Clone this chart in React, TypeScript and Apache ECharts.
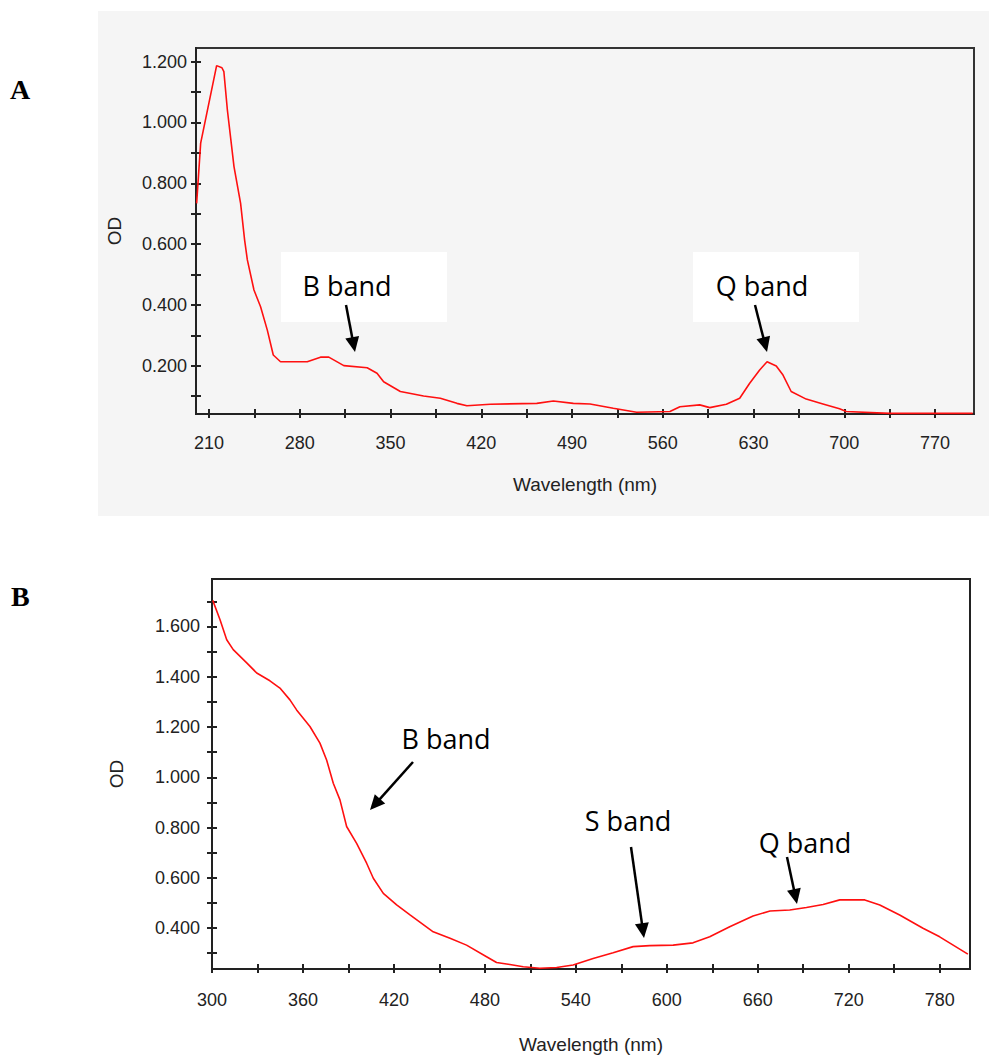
import React, { useEffect, useRef } from "react";
import * as echarts from "echarts";

// Panel A: spectrum (wavelength nm, OD)
const wavelengthA = [200.5, 203.6, 215.9, 220, 221.5, 224.2, 229.3, 234.4, 237.5, 239.6, 244.7, 249.8, 255, 259.6, 265.2, 285.8, 296, 302.4, 314, 332, 339.6, 344.7, 357.6, 375.5, 388.4, 401.2, 408.9, 426.9, 462.8, 475.6, 491, 503.9, 521.8, 539.8, 565.5, 573.2, 588.5, 596.2, 609, 619.3, 627, 634.7, 640.4, 647.5, 652.7, 659, 670.6, 683.5, 696.3, 701.5, 734.8, 799];
const odA = [0.734, 0.932, 1.187, 1.18, 1.167, 1.041, 0.855, 0.734, 0.613, 0.548, 0.449, 0.394, 0.317, 0.235, 0.213, 0.213, 0.228, 0.228, 0.2, 0.193, 0.175, 0.147, 0.115, 0.1, 0.093, 0.076, 0.068, 0.073, 0.076, 0.084, 0.076, 0.074, 0.06, 0.047, 0.049, 0.065, 0.071, 0.062, 0.073, 0.093, 0.142, 0.186, 0.213, 0.199, 0.169, 0.115, 0.09, 0.074, 0.058, 0.049, 0.043, 0.043];

// Panel B
const wavelengthB = [300.5, 305.3, 309.7, 314, 322.9, 329.5, 338.2, 344.8, 351.4, 355.8, 364.6, 371.2, 375.6, 380, 384.4, 388.8, 395.4, 402, 406.4, 413, 421.8, 430.6, 445.9, 457, 467.9, 481.1, 487.7, 496.5, 505.3, 516.3, 527.3, 538.2, 551.4, 564.6, 577.8, 588.8, 604.2, 617.3, 628.3, 641.5, 656.9, 668.1, 681.1, 692.1, 703.1, 714.1, 730.6, 740.5, 753.6, 769, 780, 798.6];
const odB = [1.704, 1.627, 1.547, 1.508, 1.455, 1.415, 1.384, 1.355, 1.308, 1.268, 1.202, 1.136, 1.069, 0.976, 0.91, 0.804, 0.737, 0.658, 0.598, 0.538, 0.492, 0.452, 0.385, 0.359, 0.332, 0.286, 0.263, 0.255, 0.246, 0.24, 0.243, 0.253, 0.279, 0.302, 0.326, 0.33, 0.332, 0.341, 0.365, 0.405, 0.448, 0.468, 0.472, 0.482, 0.494, 0.512, 0.512, 0.492, 0.452, 0.399, 0.365, 0.296];

// Tick labels
const xLabelsA = [210, 280, 350, 420, 490, 560, 630, 700, 770];
const xTicksA = [210, 245, 280, 315, 350, 385, 420, 455, 490, 525, 560, 595, 630, 665, 700, 735, 770];
const yLabelsA = [0.2, 0.4, 0.6, 0.8, 1.0, 1.2];
const yTicksA = [0.1, 0.2, 0.3, 0.4, 0.5, 0.6, 0.7, 0.8, 0.9, 1.0, 1.1, 1.2];
const xLabelsB = [300, 360, 420, 480, 540, 600, 660, 720, 780];
const xTicksB = [300, 330, 360, 390, 420, 450, 480, 510, 540, 570, 600, 630, 660, 690, 720, 750, 780];
const yLabelsB = [0.4, 0.6, 0.8, 1.0, 1.2, 1.4, 1.6];
const yTicksB = [0.3, 0.4, 0.5, 0.6, 0.7, 0.8, 0.9, 1.0, 1.1, 1.2, 1.3, 1.4, 1.5, 1.6, 1.7];

const LABEL_FONT = "'Liberation Sans', Arial, sans-serif";
const ANN_FONT = "'Open Sans', 'Noto Sans', sans-serif";

function arrow(x1: number, y1: number, x2: number, y2: number) {
  const a = Math.atan2(y2 - y1, x2 - x1);
  const L = 15, W = 7;
  const bx = x2 - L * Math.cos(a), by = y2 - L * Math.sin(a);
  const px = -Math.sin(a), py = Math.cos(a);
  return [
    { type: "line", z: 100, shape: { x1, y1, x2: bx + L * 0.2 * Math.cos(a), y2: by + L * 0.2 * Math.sin(a) }, style: { stroke: "#000", lineWidth: 2.5 } },
    { type: "polygon", z: 100, shape: { points: [[x2, y2], [bx + W * px, by + W * py], [bx - W * px, by - W * py]] }, style: { fill: "#000" } },
  ];
}

function annText(text: string, x: number, y: number) {
  return { type: "text", z: 101, x, y, style: { text, fill: "#000", font: `27px ${ANN_FONT}`, align: "center", verticalAlign: "middle" } };
}

export default function App() {
  const ref = useRef<HTMLDivElement>(null);
  useEffect(() => {
    if (!ref.current) return;
    const chart = echarts.init(ref.current, undefined, { renderer: "svg" });
    const axisLabel = (vals: number[], fmt: (v: number) => string, margin: number) => ({
      customValues: vals, formatter: fmt, margin, color: "#222", fontSize: 18, fontFamily: LABEL_FONT,
    });
    const fx = (v: number) => String(Math.round(v));
    const fy = (v: number) => v.toFixed(3);
    const mainX = (grid: number, min: number, max: number, ticks: number[], labels: number[], margin: number, gap: number) => ({
      type: "value", gridIndex: grid, min, max, position: "bottom",
      axisLine: { show: true, lineStyle: { color: "#222", width: 2 } },
      axisTick: { show: true, customValues: ticks, length: 4, lineStyle: { color: "#222", width: 2 } },
      axisLabel: axisLabel(labels, fx, margin),
      splitLine: { show: false },
      name: "Wavelength (nm)", nameLocation: "middle", nameGap: gap,
      nameTextStyle: { color: "#222", fontSize: 19, fontFamily: LABEL_FONT },
    });
    const innerX = (grid: number, min: number, max: number, ticks: number[]) => ({
      type: "value", gridIndex: grid, min, max, position: "bottom",
      axisLine: { show: false },
      axisTick: { show: true, inside: true, customValues: ticks, length: 5, lineStyle: { color: "#222", width: 2 } },
      axisLabel: { show: false }, splitLine: { show: false },
    });
    const mainY = (grid: number, min: number, max: number, ticks: number[], labels: number[], margin: number, gap: number) => ({
      type: "value", gridIndex: grid, min, max, position: "left",
      axisLine: { show: true, lineStyle: { color: "#222", width: 2 } },
      axisTick: { show: true, customValues: ticks, length: 5, lineStyle: { color: "#222", width: 2 } },
      axisLabel: axisLabel(labels, fy, margin),
      splitLine: { show: false },
      name: "OD", nameLocation: "middle", nameGap: gap,
      nameTextStyle: { color: "#222", fontSize: 19, fontFamily: LABEL_FONT },
    });
    const innerY = (grid: number, min: number, max: number, ticks: number[]) => ({
      type: "value", gridIndex: grid, min, max, position: "left",
      axisLine: { show: false },
      axisTick: { show: true, inside: true, customValues: ticks, length: 5, lineStyle: { color: "#222", width: 2 } },
      axisLabel: { show: false }, splitLine: { show: false },
    });

    chart.setOption({
      animation: false,
      backgroundColor: "#ffffff",
      grid: [
        { left: 196, top: 48, width: 778, height: 366, show: true, borderColor: "#333", borderWidth: 2, backgroundColor: "transparent" },
        { left: 212, top: 579, width: 758, height: 390, show: true, borderColor: "#222", borderWidth: 2, backgroundColor: "transparent" },
      ],
      xAxis: [
        mainX(0, 200, 800, xTicksA, xLabelsA, 20, 61),
        innerX(0, 200, 800, xTicksA),
        mainX(1, 300, 800, xTicksB, xLabelsB, 22, 66),
        innerX(1, 300, 800, xTicksB),
      ],
      yAxis: [
        mainY(0, 0.041, 1.245, yTicksA, yLabelsA, 9, 72),
        innerY(0, 0.041, 1.245, yTicksA),
        mainY(1, 0.237, 1.789, yTicksB, yLabelsB, 12, 86),
        innerY(1, 0.237, 1.789, yTicksB),
      ],
      series: [
        {
          type: "line", xAxisIndex: 0, yAxisIndex: 0, showSymbol: false, symbol: "none",
          data: wavelengthA.map((w, i) => [w, odA[i]]),
          lineStyle: { color: "#ff1010", width: 1.6 },
        },
        {
          type: "line", xAxisIndex: 2, yAxisIndex: 2, showSymbol: false, symbol: "none",
          data: wavelengthB.map((w, i) => [w, odB[i]]),
          lineStyle: { color: "#ff1010", width: 1.6 },
        },
      ],
      graphic: [
        { type: "rect", z: -1, shape: { x: 98, y: 11, width: 891, height: 505 }, style: { fill: "#f5f5f5" }, silent: true },
        { type: "rect", z: 99, shape: { x: 281, y: 252, width: 166, height: 70 }, style: { fill: "#ffffff" } },
        { type: "rect", z: 99, shape: { x: 693, y: 252, width: 166, height: 70 }, style: { fill: "#ffffff" } },
        annText("B band", 347, 285),
        annText("Q band", 762, 285),
        ...arrow(346, 305, 355, 352),
        ...arrow(755, 305, 767, 352),
        annText("B band", 446, 738),
        annText("S band", 628, 820),
        annText("Q band", 805, 842),
        ...arrow(413, 762, 370, 810),
        ...arrow(631, 847, 644, 938),
        ...arrow(787, 857, 797, 904),
        { type: "text", z: 101, x: 10, y: 75, style: { text: "A", fill: "#000", font: "bold 28px 'Liberation Serif', 'Times New Roman', serif" } },
        { type: "text", z: 101, x: 11, y: 582, style: { text: "B", fill: "#000", font: "bold 28px 'Liberation Serif', 'Times New Roman', serif" } },
      ],
    });
    return () => chart.dispose();
  }, []);
  return <div ref={ref} style={{ position: "absolute", left: 0, top: 0, width: 989, height: 1055, background: "#fff" }} />;
}
